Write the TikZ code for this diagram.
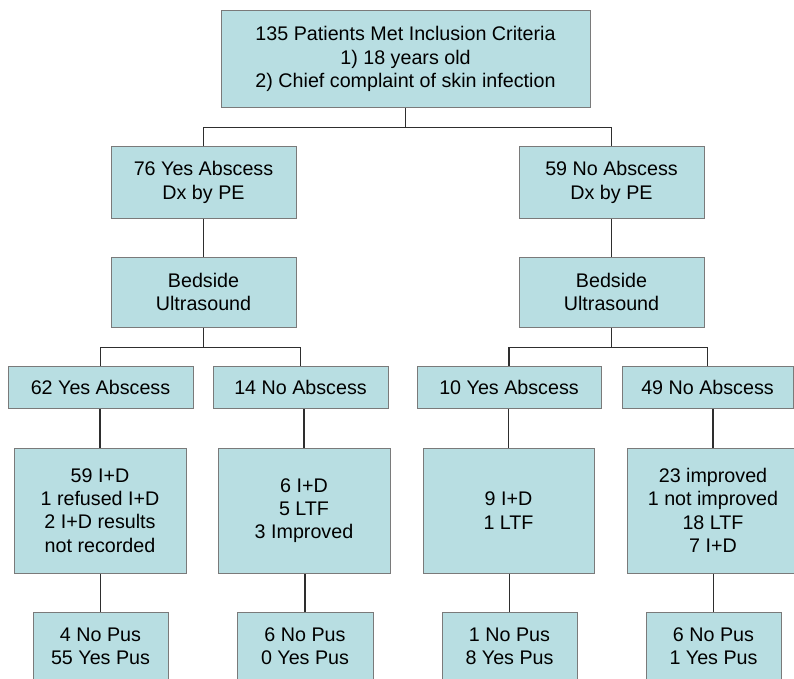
\documentclass[tikz,border=0pt]{standalone}
\usepackage{fontspec}
\setmainfont{Liberation Sans}
\usetikzlibrary{calc}
\definecolor{boxfill}{HTML}{B8DEE2}
\definecolor{boxline}{HTML}{7A7A7A}
\definecolor{wirecol}{HTML}{2E2E2E}
\newcommand{\flowbox}[5]{
  \node[box,minimum width=#3,minimum height=#4](#1)at(#2){#5};
}
\begin{document}
\begin{tikzpicture}[x=1pt,y=-1pt,
  box/.style={draw=boxline,fill=boxfill,line width=1pt,inner sep=0pt,align=center,
    font=\fontsize{19.7}{23.3}\selectfont},
  link/.style={draw=wirecol,line width=1.5pt}]
  \clip(0,0)rectangle(794,679);
  \fill[white](0,0)rectangle(794,679);
  % first level
  \flowbox{top}{405.5,59}{369}{97.5}{135 Patients Met Inclusion Criteria\\1) 18 years old\\2) Chief complaint of skin infection}
  \flowbox{yes}{203.5,182.5}{185}{71}{76 Yes Abscess\\Dx by PE}
  \flowbox{no}{611.5,182.5}{185}{71}{59 No Abscess\\Dx by PE}
  \flowbox{bedL}{203.5,292}{185}{70}{Bedside\\Ultrasound}
  \flowbox{bedR}{611.5,292}{185}{70}{Bedside\\Ultrasound}
  % ultrasound results
  \flowbox{yesL}{100.5,387}{185}{42}{62 Yes Abscess}
  \flowbox{noL}{300.5,387}{175}{42}{14 No Abscess}
  \flowbox{yesR}{509,387}{184}{42}{10 Yes Abscess}
  \flowbox{noR}{707.5,387}{171}{42}{49 No Abscess}
  % outcomes
  \flowbox{resA}{100,510.5}{172}{125}{59 I+D\\1 refused I+D\\2 I+D results\\not recorded}
  \flowbox{resB}{304,510.5}{172}{125}{6 I+D\\5 LTF\\3 Improved}
  \flowbox{resC}{508.5,510.5}{171}{125}{9 I+D\\1 LTF}
  \flowbox{resD}{713,510.5}{172}{125}{23 improved\\1 not improved\\18 LTF\\7 I+D}
  \flowbox{pusA}{100.5,646.5}{135}{69}{4 No Pus\\55 Yes Pus}
  \flowbox{pusB}{305,646.5}{136}{69}{6 No Pus\\0 Yes Pus}
  \flowbox{pusC}{509.5,646.5}{135}{69}{1 No Pus\\8 Yes Pus}
  \flowbox{pusD}{713.5,646.5}{135}{69}{6 No Pus\\1 Yes Pus}
  % connectors
  \draw[link](top.south)--++(0,19.5)coordinate(t1);
  \draw[link](yes.north)|-(t1)-|(no.north);
  \draw[link](yes)--(bedL);
  \draw[link](no)--(bedR);
  \draw[link](bedL.south)--++(0,20)coordinate(bl);
  \draw[link](yesL.north)|-(bl)-|(noL.north);
  \draw[link](bedR.south)--++(0,20)coordinate(br);
  \draw[link](yesR.north)|-(br)-|(noR.north);
  \foreach \a/\b/\c in {yesL/resA/pusA,noL/resB/pusB,yesR/resC/pusC,noR/resD/pusD}{
    \draw[link](\b.north)--(\b.north|-\a.south);
    \draw[link](\c.north)--(\c.north|-\b.south);
  }
\end{tikzpicture}
\end{document}
